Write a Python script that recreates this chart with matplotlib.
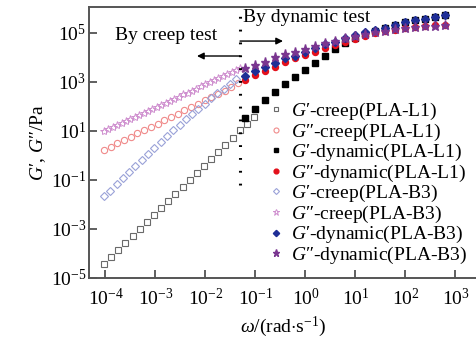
import matplotlib
matplotlib.use("Agg")
import matplotlib.pyplot as plt
import numpy as np

plt.rcParams['font.family'] = 'serif'
plt.rcParams['font.serif'] = ['Liberation Serif', 'DejaVu Serif']
plt.rcParams['mathtext.fontset'] = 'custom'
plt.rcParams['mathtext.rm'] = 'Liberation Serif'
plt.rcParams['mathtext.it'] = 'Liberation Serif:italic'
plt.rcParams['mathtext.bf'] = 'Liberation Serif:bold'

# creep test, PLA-L1
w_creep_gp_l1 = [9.3e-5, 1.29e-4, 1.80e-4, 2.5e-4, 3.47e-4, 4.82e-4, 6.7e-4, 9.3e-4,
                 1.29e-3, 1.80e-3, 2.5e-3, 3.47e-3, 4.82e-3, 6.7e-3, 9.3e-3, 1.29e-2,
                 1.80e-2, 2.5e-2, 3.47e-2, 4.82e-2, 6.7e-2, 9.3e-2]
gp_creep_l1 = [3.6e-5, 7.2e-5, 1.4e-4, 2.6e-4, 5.0e-4, 1.0e-3, 1.9e-3, 3.7e-3,
               6.9e-3, 1.4e-2, 2.8e-2, 5.1e-2, 0.10, 0.20, 0.37, 0.74,
               1.38, 2.6, 5.0, 10.5, 20, 38]
w_creep_gpp_l1 = [9.3e-5, 1.27e-4, 1.73e-4, 2.35e-4, 3.2e-4, 4.36e-4, 5.94e-4, 8.1e-4,
                  1.10e-3, 1.50e-3, 2.04e-3, 2.78e-3, 3.79e-3, 5.16e-3, 7.0e-3, 9.6e-3,
                  1.30e-2, 1.78e-2, 2.42e-2, 3.29e-2, 4.48e-2]
gpp_creep_l1 = [1.66, 2.29, 3.09, 4.27, 5.75, 7.94, 10.7, 14.8, 20.0, 27.5, 37.2,
                51.3, 69.2, 95.5, 129, 178, 240, 331, 447, 631, 891]

# creep test, PLA-B3
w_creep_gp_b3 = [9.3e-5, 1.25e-4, 1.67e-4, 2.23e-4, 2.98e-4, 3.98e-4, 5.32e-4, 7.11e-4,
                 9.5e-4, 1.27e-3, 1.70e-3, 2.27e-3, 3.03e-3, 4.06e-3, 5.42e-3, 7.24e-3,
                 9.68e-3, 1.29e-2, 1.73e-2, 2.31e-2, 3.09e-2, 4.13e-2]
gp_creep_b3 = [0.022, 0.037, 0.066, 0.12, 0.21, 0.38, 0.66, 1.17, 2.04, 3.55, 6.2,
               10.5, 17.8, 29.5, 49, 81, 132, 214, 339, 537, 851, 1318]
w_creep_gpp_b3 = [9.3e-5, 1.14e-4, 1.40e-4, 1.71e-4, 2.10e-4, 2.57e-4, 3.15e-4, 3.85e-4,
                  4.72e-4, 5.78e-4, 7.08e-4, 8.67e-4, 1.06e-3, 1.30e-3, 1.59e-3, 1.95e-3,
                  2.39e-3, 2.92e-3, 3.58e-3, 4.39e-3, 5.37e-3, 6.58e-3, 8.05e-3, 9.86e-3,
                  1.21e-2, 1.48e-2, 1.81e-2, 2.22e-2, 2.72e-2, 3.33e-2, 4.07e-2, 4.99e-2]
gpp_creep_b3 = [10.0, 12.0, 14.8, 17.8, 21.4, 25.7, 31.6, 38.0, 45.7, 55.0, 67.6,
                81.3, 97.7, 117, 145, 174, 209, 251, 309, 372, 447, 537, 661, 794,
                955, 1150, 1410, 1700, 2040, 2450, 3020, 3630]

# dynamic (frequency sweep) test
w_dyn = [0.0628, 0.0995, 0.158, 0.250, 0.396, 0.628, 0.995, 1.58, 2.50, 3.96, 6.28,
         9.95, 15.8, 25.0, 39.6, 62.8, 99.5, 158, 250, 396, 628]
gp_dyn_l1 = [34, 79, 186, 389, 794, 1550, 3090, 6030, 12000, 21400, 37200,
             60300, 91200, 126000, 166000, 214000, 269000, 324000, 389000, 468000, 537000]
gpp_dyn_l1 = [1200, 1950, 2820, 4170, 6310, 9120, 12600, 17400, 24500, 32400, 42700,
              57500, 75900, 95500, 115000, 138000, 158000, 174000, 195000, 204000, 214000]
gp_dyn_b3 = [1740, 2820, 4070, 6030, 9120, 12000, 16600, 23400, 33900, 44700, 60300,
             79400, 105000, 132000, 166000, 214000, 269000, 324000, 389000, 468000, 537000]
gpp_dyn_b3 = [3630, 4900, 6760, 10000, 13800, 17400, 22400, 28200, 37200, 46800, 60300,
              75900, 91200, 110000, 126000, 145000, 158000, 174000, 186000, 195000, 204000]

labels = ["$G$′-creep(PLA-L1)", "$G$″-creep(PLA-L1)",
          "$G$′-dynamic(PLA-L1)", "$G$″-dynamic(PLA-L1)",
          "$G$′-creep(PLA-B3)", "$G$″-creep(PLA-B3)",
          "$G$′-dynamic(PLA-B3)", "$G$″-dynamic(PLA-B3)"]

fig = plt.figure(figsize=(4.77, 3.38), dpi=100)
ax = fig.add_axes([89 / 477, 60 / 338, 388 / 477, 271 / 338])

ax.plot(w_creep_gp_l1, gp_creep_l1, 's', ms=4.3, mfc='none', mec='#6a6a6a', mew=0.8, label=labels[0])
ax.plot(w_creep_gpp_l1, gpp_creep_l1, 'o', ms=4.5, mfc='none', mec='#f08a8a', mew=0.8, label=labels[1])
ax.plot(w_dyn, gp_dyn_l1, 's', ms=4.0, color='black', label=labels[2])
ax.plot(w_dyn, gpp_dyn_l1, 'o', ms=4.3, color='#e3101b', label=labels[3])
ax.plot(w_creep_gp_b3, gp_creep_b3, 'D', ms=3.8, mfc='none', mec='#9aa2d8', mew=0.8, label=labels[4])
ax.plot(w_creep_gpp_b3, gpp_creep_b3, '*', ms=6, mfc='none', mec='#cf8fcf', mew=0.7, label=labels[5])
ax.plot(w_dyn, gp_dyn_b3, 'D', ms=4.0, color='#1f2e96', label=labels[6])
ax.plot(w_dyn, gpp_dyn_b3, '*', ms=6.5, color='#7a3690', label=labels[7])

ax.set_xscale('log')
ax.set_yscale('log')
ax.set_xlim(10 ** -4.33, 10 ** 3.43)
ax.set_ylim(1e-5, 10 ** 6.06)
ax.set_xticks([1e-4, 1e-3, 1e-2, 1e-1, 1e0, 1e1, 1e2, 1e3])
ax.set_yticks([1e-5, 1e-3, 1e-1, 1e1, 1e3, 1e5])
ax.minorticks_off()
ax.tick_params(which='major', direction='in', length=6, width=1.2, color='#444444',
               labelsize=14, pad=2, top=False, right=False)
ax.tick_params(axis='x', pad=7)
for s in ['left', 'bottom', 'top']:
    ax.spines[s].set_color('#555555')
    ax.spines[s].set_linewidth(1.4)
ax.spines['right'].set_visible(False)

ax.set_xlabel(r"$\omega$/(rad$\cdot$s$^{-1}$)", fontsize=14, labelpad=4)
ax.set_ylabel("$G$′, $G$″/Pa", fontsize=14, labelpad=2)

# boundary between creep and dynamic data
w_split = 0.049
ax.plot([w_split, w_split], [10 ** -1.2, 10 ** 6.06], color='black', lw=2.2,
        linestyle=(0, (0.6, 3.6)), solid_capstyle='butt', clip_on=False)
ax.text(10 ** -3.81, 10 ** 4.88, "By creep test", fontsize=14, ha='left', va='center')
ax.text(10 ** -1.25, 10 ** 5.65, "By dynamic test", fontsize=14, ha='left', va='center')
ax.annotate("", xy=(10 ** -2.17, 10 ** 4.06), xytext=(w_split, 10 ** 4.06),
            arrowprops=dict(arrowstyle='-|>', color='black', lw=1.0, mutation_scale=10,
                            shrinkA=0, shrinkB=0))
ax.annotate("", xy=(10 ** -0.45, 10 ** 4.67), xytext=(w_split, 10 ** 4.67),
            arrowprops=dict(arrowstyle='-|>', color='black', lw=1.0, mutation_scale=10,
                            shrinkA=0, shrinkB=0))

ax.legend(loc='upper left', bbox_to_anchor=(270 / 477, 1 - 101 / 338),
          bbox_transform=fig.transFigure, frameon=False, fontsize=14,
          handlelength=0.6, handletextpad=0.5, labelspacing=-0.03, borderpad=0,
          borderaxespad=0, markerscale=0.8)

fig.savefig("out.png", dpi=100)
